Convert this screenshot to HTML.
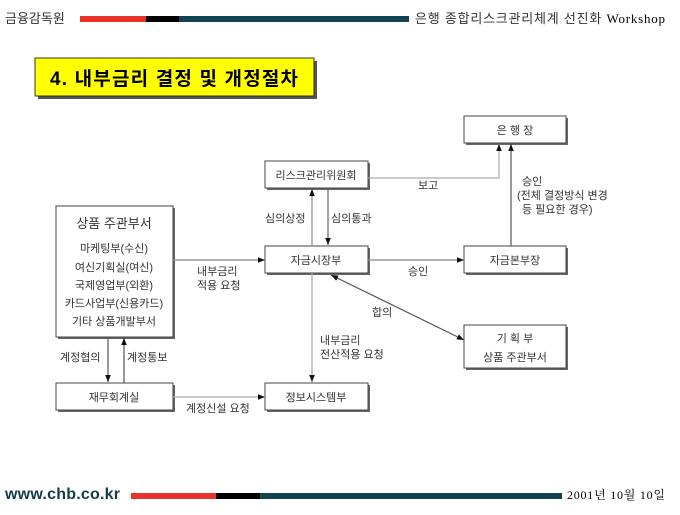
<!DOCTYPE html>
<html><head><meta charset="utf-8"><style>
body{margin:0;width:680px;height:510px;background:#fff;overflow:hidden;font-family:"Liberation Sans","Noto Sans CJK KR",sans-serif;}
</style></head><body>
<svg width="680" height="510" xmlns="http://www.w3.org/2000/svg" font-family="Liberation Sans, Noto Sans CJK KR, sans-serif">
<defs>
<marker id="a" viewBox="0 0 10 10" refX="10" refY="5" markerWidth="6" markerHeight="6" orient="auto-start-reverse"><path d="M0,1 L10,5 L0,9z" fill="#111"/></marker>
</defs>
<!-- header -->
<text x="5" y="23" font-size="13" fill="#333">금융감독원</text>
<rect x="80" y="16" width="66" height="6" fill="#e8332b"/>
<rect x="146" y="16" width="33" height="6" fill="#000"/>
<rect x="179" y="16" width="230" height="6" fill="#114450"/>
<text x="415" y="23" font-size="13" fill="#333" textLength="250">은행 종합리스크관리체계 선진화 <tspan font-family="Liberation Serif" fill="#000">Workshop</tspan></text>
<!-- title -->
<rect x="38" y="61" width="279" height="38" fill="#555"/>
<rect x="35" y="58" width="279" height="38" fill="#ffff00" stroke="#333"/>
<text x="50" y="85" font-size="19" font-weight="bold" textLength="248">4. 내부금리 결정 및 개정절차</text>
<!-- boxes -->
<g font-size="11" fill="#333" stroke="#333">
<g stroke="#444" fill="#fff">
<rect x="466" y="118" width="102" height="27" fill="#666" stroke="none"/><rect x="464" y="116" width="102" height="27"/>
<rect x="267" y="163" width="103" height="27" fill="#666" stroke="none"/><rect x="265" y="161" width="103" height="27"/>
<rect x="58" y="208" width="117" height="131" fill="#666" stroke="none"/><rect x="56" y="206" width="117" height="131"/>
<rect x="267" y="248" width="103" height="27" fill="#666" stroke="none"/><rect x="265" y="246" width="103" height="27"/>
<rect x="466" y="248" width="102" height="27" fill="#666" stroke="none"/><rect x="464" y="246" width="102" height="27"/>
<rect x="466" y="327" width="102" height="43" fill="#666" stroke="none"/><rect x="464" y="325" width="102" height="43"/>
<rect x="58" y="385" width="117" height="27" fill="#666" stroke="none"/><rect x="56" y="383" width="117" height="27"/>
<rect x="267" y="385" width="103" height="27" fill="#666" stroke="none"/><rect x="265" y="383" width="103" height="27"/>
</g>
<g stroke="none" text-anchor="middle">
<text x="515" y="134">은 행 장</text>
<text x="316" y="179">리스크관리위원회</text>
<text x="114" y="228" font-size="13">상품 주관부서</text>
<text x="114" y="252">마케팅부(수신)</text>
<text x="114" y="271">여신기획실(여신)</text>
<text x="114" y="289">국제영업부(외환)</text>
<text x="114" y="307">카드사업부(신용카드)</text>
<text x="114" y="325">기타 상품개발부서</text>
<text x="316" y="264">자금시장부</text>
<text x="515" y="264">자금본부장</text>
<text x="515" y="342">기 획 부</text>
<text x="515" y="361">상품 주관부서</text>
<text x="114" y="401">재무회계실</text>
<text x="316" y="401">정보시스템부</text>
</g>
<!-- labels -->
<g stroke="none">
<text x="197" y="275">내부금리</text><text x="197" y="289">적용 요청</text>
<text x="265" y="222">심의상정</text><text x="331" y="222">심의통과</text>
<text x="418" y="189">보고</text>
<text x="522" y="185">승인</text><text x="517" y="199">(전체 결정방식 변경</text><text x="522" y="213">등 필요한 경우)</text>
<text x="408" y="275">승인</text>
<text x="372" y="316">합의</text>
<text x="320" y="344">내부금리</text><text x="320" y="358">전산적용 요청</text>
<text x="60" y="361">계정협의</text><text x="127" y="361">계정통보</text>
<text x="186" y="412">계정신설 요청</text>
</g>
</g>
<!-- arrows -->
<g fill="none" stroke-width="1.2">
<line x1="173" y1="260" x2="265" y2="260" stroke="#888" marker-end="url(#a)"/>
<line x1="312" y1="246" x2="312" y2="189" stroke="#888" marker-end="url(#a)"/>
<line x1="328" y1="188" x2="328" y2="245" stroke="#666" marker-end="url(#a)"/>
<polyline points="368,178 499,178 499,144" stroke="#aaa" marker-end="url(#a)"/>
<line x1="511" y1="246" x2="511" y2="144" stroke="#555" marker-end="url(#a)"/>
<line x1="368" y1="260" x2="464" y2="260" stroke="#888" marker-end="url(#a)"/>
<line x1="331" y1="275" x2="464" y2="340" stroke="#555" marker-start="url(#a)" marker-end="url(#a)"/>
<line x1="312" y1="273" x2="312" y2="382" stroke="#aaa" marker-end="url(#a)"/>
<line x1="108" y1="337" x2="108" y2="382" stroke="#555" marker-end="url(#a)"/>
<line x1="124" y1="383" x2="124" y2="338" stroke="#555" marker-end="url(#a)"/>
<line x1="173" y1="397" x2="265" y2="397" stroke="#aaa" marker-end="url(#a)"/>
</g>
<!-- footer -->
<text x="5" y="499" font-size="16" font-weight="bold" fill="#113c46" textLength="115">www.chb.co.kr</text>
<rect x="131" y="493" width="85" height="6" fill="#e8332b"/>
<rect x="216" y="493" width="44" height="6" fill="#000"/>
<rect x="260" y="493" width="302" height="6" fill="#114450"/>
<text x="567" y="499" font-size="12" font-family="Liberation Serif, Noto Serif CJK SC, serif" textLength="98">2001년 10월 10일</text>
</svg>
</body></html>
